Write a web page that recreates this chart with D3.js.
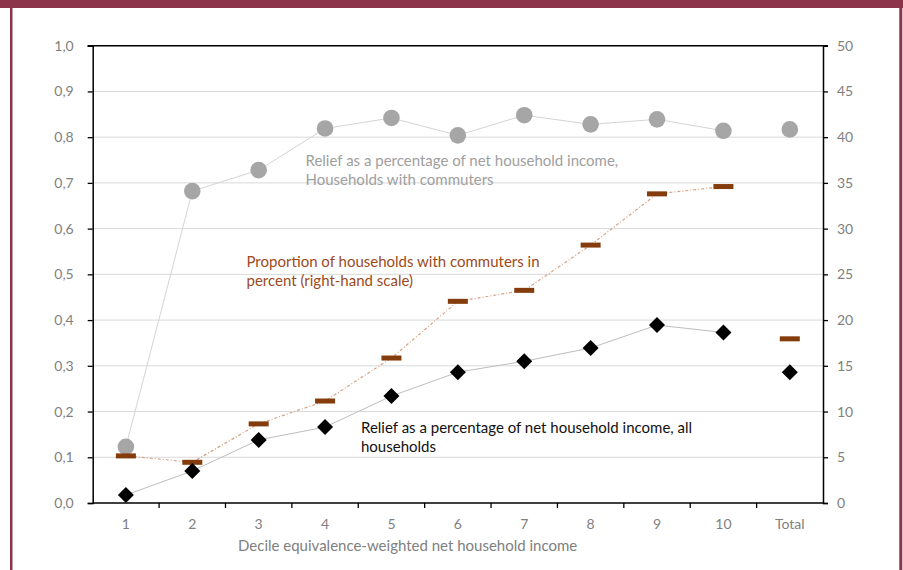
<!DOCTYPE html>
<html>
<head>
<meta charset="utf-8">
<script src="https://cdn.jsdelivr.net/npm/d3@7"></script>
<style>
  body { margin: 0; background: #fff; }
  svg { display: block; }
  text { font-family: Lato, "Open Sans", sans-serif; }
</style>
</head>
<body>
<svg id="chart" width="903" height="570"></svg>
<script>
// Income deciles plus the overall total
const categories = ["1", "2", "3", "4", "5", "6", "7", "8", "9", "10", "Total"];

// Relief as a share of net household income, households with commuters (left scale)
const reliefCommuters = [0.123, 0.682, 0.728, 0.819, 0.842, 0.804, 0.848, 0.828, 0.839, 0.814, 0.817];

// Relief as a share of net household income, all households (left scale)
const reliefAll = [0.0175, 0.070, 0.138, 0.166, 0.234, 0.286, 0.310, 0.339, 0.389, 0.373, 0.286];

// Proportion of households with commuters, percent (right scale)
const commuterShare = [5.15, 4.45, 8.65, 11.15, 15.85, 22.05, 23.25, 28.2, 33.8, 34.6, 17.95];

const leftTicks = [0, 0.1, 0.2, 0.3, 0.4, 0.5, 0.6, 0.7, 0.8, 0.9, 1.0];
const rightTicks = [0, 5, 10, 15, 20, 25, 30, 35, 40, 45, 50];

const svg = d3.select("#chart");
const W = 903, H = 570;
const plot = { left: 92.7, right: 823, top: 45.7, bottom: 503 };

// Frame
svg.append("rect").attr("x", 0).attr("y", 0).attr("width", W).attr("height", 8).attr("fill", "#8b344a");
svg.append("rect").attr("x", 10).attr("y", 0).attr("width", 2.5).attr("height", H).attr("fill", "#8b344a");
svg.append("rect").attr("x", 899.3).attr("y", 0).attr("width", 3).attr("height", H).attr("fill", "#8b344a");

const x = d3.scaleBand().domain(categories).range([plot.left, plot.right]);
const y = d3.scaleLinear().domain([0, 1]).range([plot.bottom, plot.top]);
const yR = d3.scaleLinear().domain([0, 50]).range([plot.bottom, plot.top]);
const cx = d => x(d) + x.bandwidth() / 2;

// Horizontal gridlines
svg.append("g").selectAll("line")
  .data(leftTicks.filter(t => t > 0 && t < 1))
  .join("line")
  .attr("x1", plot.left).attr("x2", plot.right)
  .attr("y1", d => y(d)).attr("y2", d => y(d))
  .attr("stroke", "#d9d9d9").attr("stroke-width", 1);

const commaFmt = d => d3.format(".1f")(d).replace(".", ",");

// Left axis
const gL = svg.append("g").attr("transform", `translate(${plot.left},0)`)
  .call(d3.axisLeft(y).tickValues(leftTicks).tickFormat(commaFmt).tickSize(5).tickPadding(14));
// Right axis
const gR = svg.append("g").attr("transform", `translate(${plot.right},0)`)
  .call(d3.axisRight(yR).tickValues(rightTicks).tickSize(5).tickPadding(9));
// Bottom axis (labels centred in bands, ticks on band edges)
const gB = svg.append("g").attr("transform", `translate(0,${plot.bottom})`)
  .call(d3.axisBottom(x).tickSize(0).tickPadding(16));

[gL, gR, gB].forEach(g => {
  g.select(".domain").attr("stroke", "#000").attr("stroke-width", 1.5);
  g.selectAll(".tick line").attr("stroke", "#000").attr("stroke-width", 1.3);
  g.selectAll("text").attr("fill", "#7f7f7f").style("font-size", "14px")
    .style("font-family", "Lato, 'Open Sans', sans-serif");
});
gB.select(".domain").attr("d", `M${plot.left},0H${plot.right}`);

const edges = categories.map(c => x(c)).concat([plot.right]);
svg.append("g").selectAll("line")
  .data(edges.slice(1, -1))
  .join("line")
  .attr("x1", d => d).attr("x2", d => d)
  .attr("y1", plot.bottom).attr("y2", plot.bottom + 5)
  .attr("stroke", "#000").attr("stroke-width", 1.3);

// Top frame line at 1,0
svg.append("line")
  .attr("x1", plot.left - 5).attr("x2", plot.right + 5)
  .attr("y1", y(1)).attr("y2", y(1))
  .attr("stroke", "#000").attr("stroke-width", 1.5);

const deciles = categories.slice(0, 10);

// Connecting lines (deciles only)
const lineL = d3.line().x(d => cx(d.c)).y(d => y(d.v));
const lineR = d3.line().x(d => cx(d.c)).y(d => yR(d.v));

svg.append("path")
  .attr("d", lineL(deciles.map((c, i) => ({ c, v: reliefCommuters[i] }))))
  .attr("fill", "none").attr("stroke", "#d4d4d4").attr("stroke-width", 1);

svg.append("path")
  .attr("d", lineR(deciles.map((c, i) => ({ c, v: commuterShare[i] }))))
  .attr("fill", "none").attr("stroke", "#d8a283").attr("stroke-width", 1.2)
  .attr("stroke-dasharray", "3,2,1,2");

svg.append("path")
  .attr("d", lineL(deciles.map((c, i) => ({ c, v: reliefAll[i] }))))
  .attr("fill", "none").attr("stroke", "#bdbdbd").attr("stroke-width", 1);

// Markers
svg.append("g").selectAll("circle")
  .data(categories)
  .join("circle")
  .attr("cx", d => cx(d))
  .attr("cy", (d, i) => y(reliefCommuters[i]))
  .attr("r", 8.3)
  .attr("fill", "#a6a6a6");

svg.append("g").selectAll("rect")
  .data(categories)
  .join("rect")
  .attr("x", d => cx(d) - 10)
  .attr("y", (d, i) => yR(commuterShare[i]) - 2.5)
  .attr("width", 20).attr("height", 5)
  .attr("fill", "#843c0c");

const diamond = d3.symbol().type(d3.symbolSquare).size(128);
svg.append("g").selectAll("path")
  .data(categories)
  .join("path")
  .attr("d", diamond)
  .attr("transform", (d, i) => `translate(${cx(d)},${y(reliefAll[i])}) rotate(45)`)
  .attr("fill", "#000");

// Series annotations
function note(xp, yp, lines, color) {
  const t = svg.append("text").attr("x", xp).attr("y", yp)
    .attr("fill", color).style("font-size", "15px");
  lines.forEach((s, i) => t.append("tspan").attr("x", xp).attr("dy", i ? 19 : 0).text(s));
}
note(305.5, 166, ["Relief as a percentage of net household income,", "Households with commuters"], "#a0a0a0");
note(246.5, 267, ["Proportion of households with commuters in", "percent (right-hand scale)"], "#9c4a1c");
note(361, 432.5, ["Relief as a percentage of net household income, all", "households"], "#111");

// X axis title
svg.append("text").attr("x", 238).attr("y", 551)
  .attr("fill", "#808080").style("font-size", "15px")
  .text("Decile equivalence-weighted net household income");
</script>
</body>
</html>
